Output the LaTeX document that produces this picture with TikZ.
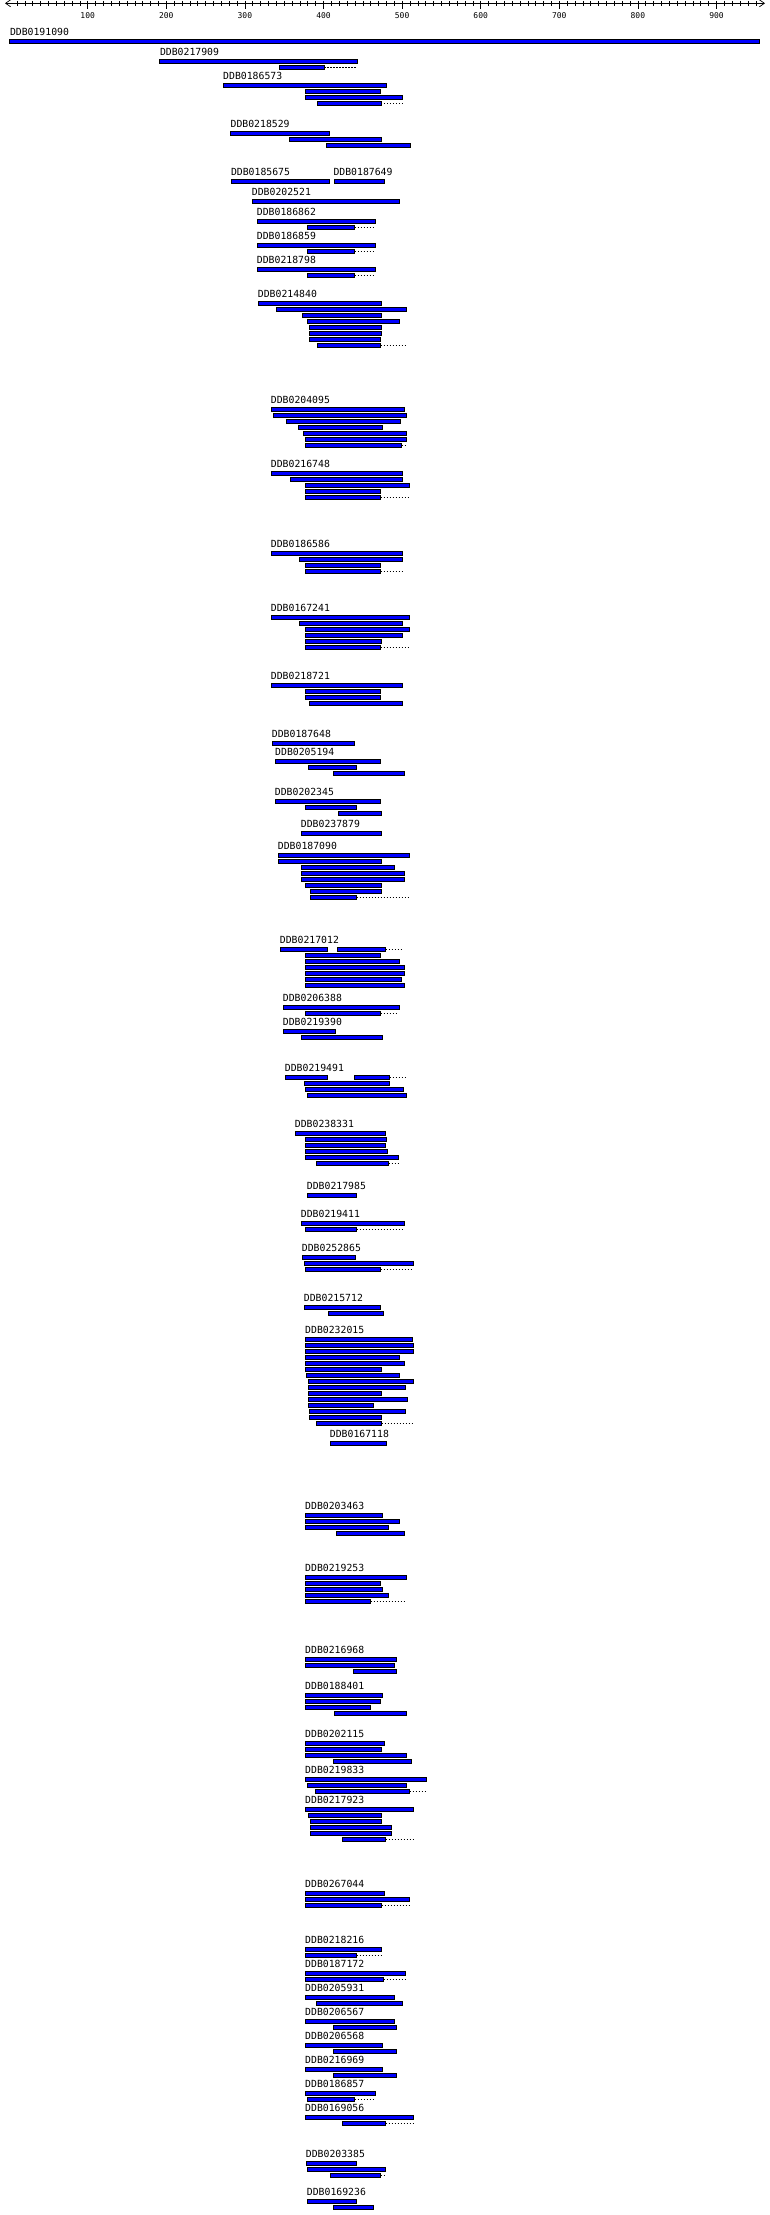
\documentclass[tikz,border=0pt]{standalone}
\usepackage{fontspec}
\setmonofont{DejaVu Sans Mono}
\usetikzlibrary{arrows.meta}

\tikzset{
  hit/.style={draw=black, fill=blue, line width=0.8pt},
  hittail/.style={draw=black, line width=0.8pt, dash pattern=on 1.5pt off 1.5pt},
  seqname/.style={anchor=west, inner sep=0pt, font=\ttfamily\fontsize{9.8}{10}\selectfont},
  scalenum/.style={inner sep=0pt, font=\ttfamily\fontsize{8}{9}\selectfont}
}
% one hit bar, and its dotted tail
\newcommand{\hitbar}[3]{\draw[hit] (#1,#3-1.8) rectangle (#2,#3+1.8);}
\newcommand{\hitdots}[3]{\draw[hittail] (#1,#3) -- (#2,#3);}

\begin{document}
\begin{tikzpicture}[x=1pt,y=-1pt]
        \useasboundingbox (0,0) rectangle (770,2215);

        % Draw the ruler
        \coordinate (axl) at (5,3.3);
        \coordinate (axr) at (765,3.3);
        \draw[line width=0.7pt, {Straight Barb[length=5pt,width=7pt]}-{Straight Barb[length=5pt,width=7pt]}] (axl) -- (axr);
        \foreach \u in {10,20,...,950}
            \draw[line width=0.6pt] ({9.1+0.786*\u},0.8) -- ({9.1+0.786*\u},5.8);
        \foreach \u in {100,200,...,900} {
            \draw[line width=0.6pt] ({9.1+0.786*\u},0.8) -- ({9.1+0.786*\u},8.8);
            \node[scalenum] (t\u) at ({9.1+0.786*\u},15.5) {\u};
        }

        % Hits
        \node[seqname] (d0191090) at (9.8,32.3) {DDB0191090};
        \hitbar{9.8}{759.3}{41.5}

        \node[seqname] (d0217909) at (159.8,52.3) {DDB0217909};
        \hitbar{159.8}{356.9}{61.3}
        \hitbar{279.4}{324}{67.3} \hitdots{324}{356.9}{67.3}

        \node[seqname] (d0186573) at (223,76.3) {DDB0186573};
        \hitbar{223}{386.8}{85.3}
        \hitbar{304.9}{379.9}{91.3}
        \hitbar{304.9}{402}{97.3}
        \hitbar{317.2}{380.9}{103.3} \hitdots{380.9}{402}{103.3}

        \node[seqname] (d0218529) at (230.4,124.3) {DDB0218529};
        \hitbar{230.4}{328.9}{133.3}
        \hitbar{289.2}{380.9}{139.3}
        \hitbar{326}{410.8}{145.3}

        \node[seqname] (d0185675) at (230.8,172.3) {DDB0185675};
        \hitbar{231.3}{329.7}{181.3}
        \node[seqname] (d0187649) at (333.3,172.3) {DDB0187649};
        \hitbar{334.3}{384.3}{181.3}

        \node[seqname] (d0202521) at (251.7,192.3) {DDB0202521};
        \hitbar{252.3}{399.7}{201.3}

        \node[seqname] (d0186862) at (256.7,212.3) {DDB0186862};
        \hitbar{257.3}{375.7}{221.3}
        \hitbar{307.3}{354.7}{227.3} \hitdots{354.7}{375.7}{227.3}

        \node[seqname] (d0186859) at (256.7,236.3) {DDB0186859};
        \hitbar{257.3}{375.7}{245.3}
        \hitbar{307.3}{354.7}{251.3} \hitdots{354.7}{375.7}{251.3}

        \node[seqname] (d0218798) at (256.7,260.3) {DDB0218798};
        \hitbar{257.3}{375.7}{269.3}
        \hitbar{307.3}{354.7}{275.3} \hitdots{354.7}{375.7}{275.3}

        \node[seqname] (d0214840) at (257.7,294.3) {DDB0214840};
        \hitbar{258.3}{381.7}{303.3}
        \hitbar{276.3}{406.7}{309.3}
        \hitbar{302.3}{381.7}{315.3}
        \hitbar{307.3}{399.7}{321.3}
        \hitbar{309.3}{381.7}{327.3}
        \hitbar{309.3}{381.7}{333.3}
        \hitbar{309.3}{380.7}{339.3}
        \hitbar{317.3}{380.7}{345.3} \hitdots{380.7}{406.7}{345.3}

        \node[seqname] (d0204095) at (270.7,400.3) {DDB0204095};
        \hitbar{271.3}{404.3}{409.3}
        \hitbar{273.3}{406.7}{415.3}
        \hitbar{286.3}{400.7}{421.3}
        \hitbar{298.7}{382.7}{427.3}
        \hitbar{303.3}{406.7}{433.3}
        \hitbar{305.3}{406.7}{439.3}
        \hitbar{305.3}{401.7}{445.3} \hitdots{401.7}{406.7}{445.3}

        \node[seqname] (d0216748) at (270.7,464.3) {DDB0216748};
        \hitbar{271.3}{402.7}{473.3}
        \hitbar{290.3}{402.7}{479.3}
        \hitbar{305.3}{409.7}{485.3}
        \hitbar{305.3}{380.7}{491.3}
        \hitbar{305.3}{380.7}{497.3} \hitdots{380.7}{409.7}{497.3}

        \node[seqname] (d0186586) at (270.7,544.3) {DDB0186586};
        \hitbar{271.3}{402.7}{553.3}
        \hitbar{299.3}{402.7}{559.3}
        \hitbar{305.3}{380.7}{565.3}
        \hitbar{305.3}{380.7}{571.3} \hitdots{380.7}{402.7}{571.3}

        \node[seqname] (d0167241) at (270.7,608.3) {DDB0167241};
        \hitbar{271.3}{409.7}{617.3}
        \hitbar{299.3}{402.7}{623.3}
        \hitbar{305.3}{409.7}{629.3}
        \hitbar{305.3}{402.7}{635.3}
        \hitbar{305.3}{381.7}{641.3}
        \hitbar{305.3}{380.7}{647.3} \hitdots{380.7}{409.7}{647.3}

        \node[seqname] (d0218721) at (270.7,676.3) {DDB0218721};
        \hitbar{271.3}{402.7}{685.3}
        \hitbar{305.3}{380.7}{691.3}
        \hitbar{305.3}{380.7}{697.3}
        \hitbar{309.3}{402.7}{703.3}

        \node[seqname] (d0187648) at (271.7,734.3) {DDB0187648};
        \hitbar{272.3}{354.7}{743.3}

        \node[seqname] (d0205194) at (275,752.3) {DDB0205194};
        \hitbar{275.3}{380.7}{761.3}
        \hitbar{308.3}{356.7}{767.3}
        \hitbar{333.3}{404.7}{773.3}

        \node[seqname] (d0202345) at (274.7,792.3) {DDB0202345};
        \hitbar{275.3}{380.7}{801.3}
        \hitbar{305.3}{356.7}{807.3}
        \hitbar{338.3}{381.7}{813.3}

        \node[seqname] (d0237879) at (300.7,824.3) {DDB0237879};
        \hitbar{301.3}{381.7}{833.3}

        \node[seqname] (d0187090) at (277.7,846.3) {DDB0187090};
        \hitbar{278.3}{409.7}{855.3}
        \hitbar{278.3}{381.7}{861.3}
        \hitbar{301.3}{394.7}{867.3}
        \hitbar{301.3}{404.7}{873.3}
        \hitbar{301.3}{404.7}{879.3}
        \hitbar{305.3}{381.7}{885.3}
        \hitbar{310.3}{381.7}{891.3}
        \hitbar{310.3}{356.7}{897.3} \hitdots{356.7}{409.7}{897.3}

        \node[seqname] (d0217012) at (279.7,940.3) {DDB0217012};
        \hitbar{280.3}{327.7}{949.3}
        \hitbar{337.3}{385.7}{949.3} \hitdots{385.7}{402.7}{949.3}
        \hitbar{305.3}{380.7}{955.3}
        \hitbar{305.3}{399.7}{961.3}
        \hitbar{305.3}{404.7}{967.3}
        \hitbar{305.3}{404.7}{973.3}
        \hitbar{305.3}{401.7}{979.3}
        \hitbar{305.3}{404.7}{985.3}

        \node[seqname] (d0206388) at (282.7,998.3) {DDB0206388};
        \hitbar{283.3}{399.7}{1007.3}
        \hitbar{305.3}{380.7}{1013.3} \hitdots{380.7}{398.7}{1013.3}

        \node[seqname] (d0219390) at (282.7,1022.3) {DDB0219390};
        \hitbar{283.3}{335.7}{1031.3}
        \hitbar{301.3}{382.7}{1037.3}

        \node[seqname] (d0219491) at (284.7,1068.3) {DDB0219491};
        \hitbar{285.3}{327.7}{1077.3}
        \hitbar{354.3}{389.7}{1077.3} \hitdots{389.7}{406.7}{1077.3}
        \hitbar{304.3}{389.7}{1083.3}
        \hitbar{305.3}{403.7}{1089.3}
        \hitbar{307.3}{406.7}{1095.3}

        \node[seqname] (d0238331) at (294.7,1124.3) {DDB0238331};
        \hitbar{295.3}{385.7}{1133.3}
        \hitbar{305.3}{386.7}{1139.3}
        \hitbar{305.3}{385.7}{1145.3}
        \hitbar{305.3}{387.7}{1151.3}
        \hitbar{305.3}{398.7}{1157.3}
        \hitbar{316.3}{388.7}{1163.3} \hitdots{388.7}{398.7}{1163.3}

        \node[seqname] (d0217985) at (306.7,1186.3) {DDB0217985};
        \hitbar{307.3}{356.7}{1195.3}

        \node[seqname] (d0219411) at (300.7,1214.3) {DDB0219411};
        \hitbar{301.3}{404.7}{1223.3}
        \hitbar{305.3}{356.7}{1229.3} \hitdots{356.7}{404.7}{1229.3}

        \node[seqname] (d0252865) at (301.7,1248.3) {DDB0252865};
        \hitbar{302.3}{355.7}{1257.3}
        \hitbar{304.3}{413.7}{1263.3}
        \hitbar{305.3}{380.7}{1269.3} \hitdots{380.7}{413.7}{1269.3}

        \node[seqname] (d0215712) at (303.7,1298.3) {DDB0215712};
        \hitbar{304.3}{380.7}{1307.3}
        \hitbar{328.3}{383.7}{1313.3}

        \node[seqname] (d0232015) at (305,1330.3) {DDB0232015};
        \hitbar{305.3}{412.7}{1339.3}
        \hitbar{305.3}{413.7}{1345.3}
        \hitbar{305.3}{413.7}{1351.3}
        \hitbar{305.3}{399.7}{1357.3}
        \hitbar{305.3}{404.7}{1363.3}
        \hitbar{305.3}{381.7}{1369.3}
        \hitbar{306.3}{399.7}{1375.3}
        \hitbar{308.3}{413.7}{1381.3}
        \hitbar{308.3}{405.7}{1387.3}
        \hitbar{308.3}{381.7}{1393.3}
        \hitbar{308.3}{407.7}{1399.3}
        \hitbar{308.3}{373.7}{1405.3}
        \hitbar{309.3}{405.7}{1411.3}
        \hitbar{309.3}{381.7}{1417.3}
        \hitbar{316.3}{381.7}{1423.3} \hitdots{381.7}{413.7}{1423.3}

        \node[seqname] (d0167118) at (329.7,1434.3) {DDB0167118};
        \hitbar{330.3}{386.7}{1443.3}

        \node[seqname] (d0203463) at (305,1506.3) {DDB0203463};
        \hitbar{305.3}{382.7}{1515.3}
        \hitbar{305.3}{399.7}{1521.3}
        \hitbar{305.3}{388.7}{1527.3}
        \hitbar{336.3}{404.7}{1533.3}

        \node[seqname] (d0219253) at (305,1568.3) {DDB0219253};
        \hitbar{305.3}{406.7}{1577.3}
        \hitbar{305.3}{380.7}{1583.3}
        \hitbar{305.3}{382.7}{1589.3}
        \hitbar{305.3}{388.7}{1595.3}
        \hitbar{305.3}{370.7}{1601.3} \hitdots{370.7}{406.7}{1601.3}

        \node[seqname] (d0216968) at (305,1650.3) {DDB0216968};
        \hitbar{305.3}{396.7}{1659.3}
        \hitbar{305.3}{394.7}{1665.3}
        \hitbar{353.3}{396.7}{1671.3}

        \node[seqname] (d0188401) at (305,1686.3) {DDB0188401};
        \hitbar{305.3}{382.7}{1695.3}
        \hitbar{305.3}{380.7}{1701.3}
        \hitbar{305.3}{370.7}{1707.3}
        \hitbar{334.3}{406.7}{1713.3}

        \node[seqname] (d0202115) at (305,1734.3) {DDB0202115};
        \hitbar{305.3}{384.7}{1743.3}
        \hitbar{305.3}{381.7}{1749.3}
        \hitbar{305.3}{406.7}{1755.3}
        \hitbar{333.3}{411.7}{1761.3}

        \node[seqname] (d0219833) at (305,1770.3) {DDB0219833};
        \hitbar{305.3}{426.7}{1779.3}
        \hitbar{307.3}{406.7}{1785.3}
        \hitbar{315.3}{409.7}{1791.3} \hitdots{409.7}{426.7}{1791.3}

        \node[seqname] (d0217923) at (305,1800.3) {DDB0217923};
        \hitbar{305.3}{413.7}{1809.3}
        \hitbar{308.3}{381.7}{1815.3}
        \hitbar{310.3}{381.7}{1821.3}
        \hitbar{310.3}{391.7}{1827.3}
        \hitbar{310.3}{391.7}{1833.3}
        \hitbar{342.3}{385.7}{1839.3} \hitdots{385.7}{413.7}{1839.3}

        \node[seqname] (d0267044) at (305,1884.3) {DDB0267044};
        \hitbar{305.3}{384.7}{1893.3}
        \hitbar{305.3}{409.7}{1899.3}
        \hitbar{305.3}{381.7}{1905.3} \hitdots{381.7}{409.7}{1905.3}

        \node[seqname] (d0218216) at (305,1940.3) {DDB0218216};
        \hitbar{305.3}{381.7}{1949.3}
        \hitbar{305.3}{356.7}{1955.3} \hitdots{356.7}{381.7}{1955.3}

        \node[seqname] (d0187172) at (305,1964.3) {DDB0187172};
        \hitbar{305.3}{405.7}{1973.3}
        \hitbar{305.3}{383.7}{1979.3} \hitdots{383.7}{405.7}{1979.3}

        \node[seqname] (d0205931) at (305,1988.3) {DDB0205931};
        \hitbar{305.3}{394.7}{1997.3}
        \hitbar{316.3}{402.7}{2003.3}

        \node[seqname] (d0206567) at (305,2012.3) {DDB0206567};
        \hitbar{305.3}{394.7}{2021.3}
        \hitbar{333.3}{396.7}{2027.3}

        \node[seqname] (d0206568) at (305,2036.3) {DDB0206568};
        \hitbar{305.3}{382.7}{2045.3}
        \hitbar{333.3}{396.7}{2051.3}

        \node[seqname] (d0216969) at (305,2060.3) {DDB0216969};
        \hitbar{305.3}{382.7}{2069.3}
        \hitbar{333.3}{396.7}{2075.3}

        \node[seqname] (d0186857) at (305,2084.3) {DDB0186857};
        \hitbar{305.3}{375.7}{2093.3}
        \hitbar{307.3}{354.7}{2099.3} \hitdots{354.7}{375.7}{2099.3}

        \node[seqname] (d0169056) at (305,2108.3) {DDB0169056};
        \hitbar{305.3}{413.7}{2117.3}
        \hitbar{342.3}{385.7}{2123.3} \hitdots{385.7}{413.7}{2123.3}

        \node[seqname] (d0203385) at (305.7,2154.3) {DDB0203385};
        \hitbar{306.3}{356.7}{2163.3}
        \hitbar{307.3}{385.7}{2169.3}
        \hitbar{330.3}{380.7}{2175.3} \hitdots{380.7}{385.7}{2175.3}

        \node[seqname] (d0169236) at (306.7,2192.3) {DDB0169236};
        \hitbar{307.3}{356.7}{2201.3}
        \hitbar{333.3}{373.7}{2207.3}

    \end{tikzpicture}
\end{document}
